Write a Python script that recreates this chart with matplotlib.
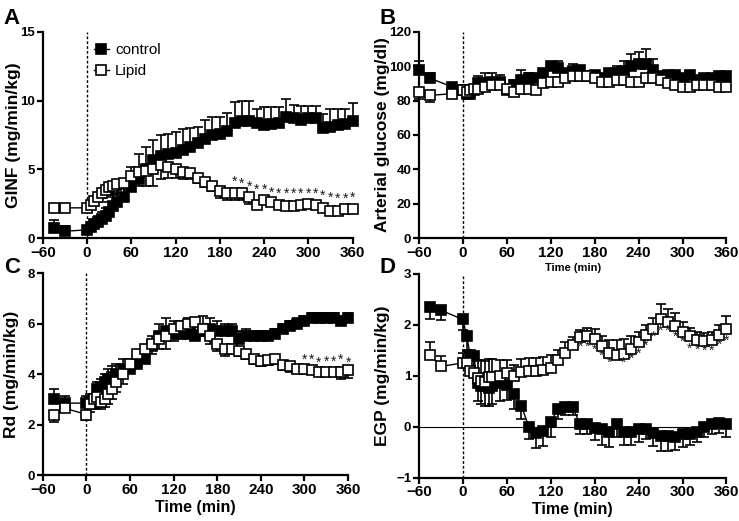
"""Four-panel clamp time course: GINF, arterial glucose, Rd and EGP."""

import matplotlib

matplotlib.use("Agg")
import matplotlib.pyplot as plt
import numpy as np

plt.rcParams["font.family"] = ["Liberation Sans", "DejaVu Sans"]
plt.rcParams["font.weight"] = "bold"

# time points (min)
t_main = [-45, -30, 0, 5, 10, 15, 20, 25, 30, 35, 40, 50, 60, 70, 80, 90, 100,
          110, 120, 130, 140, 150, 160, 170, 180, 190, 200, 210, 220, 230, 240,
          250, 260, 270, 280, 290, 300, 310, 320, 330, 340, 350, 360]
t_glu = [-60, -45, -15, 0, 5, 10, 15, 20, 30, 40, 50, 60, 70, 80, 90, 100, 110,
         120, 130, 140, 150, 160, 170, 180, 190, 200, 210, 220, 230, 240, 250,
         260, 270, 280, 290, 300, 310, 320, 330, 340, 350, 360]

# A: GINF
ginf_ctrl = [0.7, 0.5, 0.6, 0.8, 1.0, 1.2, 1.4, 1.6, 1.9, 2.3, 2.6, 3.0, 3.7, 4.3,
             5.0, 5.7, 6.0, 6.1, 6.2, 6.4, 6.6, 6.9, 7.2, 7.5, 7.6, 7.8, 8.4, 8.5,
             8.5, 8.4, 8.2, 8.3, 8.4, 8.8, 8.7, 8.6, 8.7, 8.7, 8.0, 8.1, 8.2, 8.3, 8.5]
ginf_ctrl_err = [0.6, 0.4, 0.3, 0.3, 0.3, 0.4, 0.5, 0.6, 0.7, 0.8, 0.9, 1.0, 1.5,
                 1.8, 1.6, 1.4, 1.5, 1.5, 1.5, 1.5, 1.4, 1.2, 1.4, 1.3, 1.2, 1.3,
                 1.5, 1.5, 1.5, 1.0, 1.3, 1.2, 1.1, 1.3, 1.0, 1.0, 0.9, 0.9, 1.0,
                 1.3, 1.2, 1.1, 1.3]
ginf_lip = [2.2, 2.2, 2.2, 2.4, 2.7, 3.0, 3.3, 3.5, 3.7, 3.8, 3.9, 4.0, 4.5, 4.8,
            4.9, 5.0, 5.3, 5.2, 5.0, 4.8, 4.7, 4.4, 4.1, 3.8, 3.4, 3.3, 3.3, 3.3,
            3.0, 2.4, 2.8, 2.6, 2.4, 2.3, 2.3, 2.4, 2.5, 2.4, 2.2, 2.0, 2.0, 2.1, 2.1]
ginf_lip_err = [0.2, 0.2, 0.2, 0.3, 0.3, 0.4, 0.4, 0.5, 0.5, 0.6, 0.6, 0.7, 0.8,
                1.0, 1.1, 1.2, 1.0, 0.8, 0.6, 0.5, 0.4, 0.4, 0.4, 0.4, 0.5, 0.5,
                0.5, 0.5, 0.5, 0.3, 0.3, 0.2, 0.2, 0.2, 0.2, 0.2, 0.2, 0.2, 0.2,
                0.3, 0.3, 0.2, 0.2]
ginf_star_t = [200, 210, 220, 230, 240, 250, 260, 270, 280, 290, 300, 310, 320,
               330, 340, 350, 360]
ginf_star_y = [4.1, 3.93, 3.74, 3.5, 3.5, 3.33, 3.2, 3.2, 3.25, 3.2, 3.2, 3.2,
               3.06, 2.94, 2.84, 2.84, 2.96]

# B: arterial glucose
glu_ctrl = [98, 93, 88, 86, 84, 84, 86, 90, 90, 91, 91, 86, 89, 92, 93, 93, 96,
            100, 99, 96, 97, 98, 94, 95, 93, 96, 96, 97, 100, 101, 101, 98, 94,
            95, 95, 93, 95, 92, 93, 93, 94, 94]
glu_ctrl_err = [5, 3, 2, 1, 1, 1, 2, 4, 6, 5, 4, 1, 3, 6, 3, 2, 2, 2, 4, 2, 4,
                2, 1, 1, 1, 2, 4, 6, 7, 7, 9, 6, 2, 2, 1, 1, 2, 1, 1, 1, 1, 1]
glu_lip = [85, 83, 84, 86, 85, 86, 87, 87, 88, 89, 89, 87, 85, 87, 87, 86, 90,
           91, 91, 93, 94, 94, 94, 93, 91, 91, 92, 92, 91, 91, 93, 93, 92, 90,
           89, 88, 88, 89, 89, 89, 88, 88]
glu_lip_err = [4, 4, 2, 2, 2, 2, 2, 2, 2, 2, 2, 2, 2, 2, 2, 2, 2, 2, 2, 1, 1, 1,
               1, 1, 1, 1, 1, 1, 1, 1, 1, 1, 1, 1, 1, 1, 1, 1, 1, 1, 1, 1]

# C: Rd
rd_ctrl = [3.0, 2.85, 2.85, 2.9, 2.8, 3.4, 3.5, 3.7, 3.8, 3.9, 4.0, 4.2, 4.2,
           4.4, 4.6, 5.1, 5.5, 5.7, 5.6, 5.6, 5.6, 5.5, 5.7, 5.8, 5.7, 5.7, 5.7,
           5.4, 5.5, 5.5, 5.5, 5.5, 5.6, 5.8, 5.9, 6.0, 6.1, 6.2, 6.2, 6.2, 6.2,
           6.1, 6.2]
rd_ctrl_err = [0.4, 0.3, 0.3, 0.3, 0.3, 0.3, 0.3, 0.3, 0.4, 0.4, 0.4, 0.4, 0.4,
               0.4, 0.4, 0.4, 0.5, 0.5, 0.5, 0.5, 0.6, 0.6, 0.6, 0.4, 0.4, 0.3,
               0.3, 0.3, 0.3, 0.2, 0.2, 0.2, 0.2, 0.2, 0.2, 0.2, 0.2, 0.2, 0.2,
               0.2, 0.2, 0.2, 0.2]
rd_lip = [2.4, 2.65, 2.4, 2.8, 3.0, 3.1, 2.9, 3.0, 3.2, 3.4, 3.7, 4.0, 4.4, 4.8,
          5.0, 5.2, 5.4, 5.5, 5.8, 5.9, 6.0, 6.05, 5.8, 5.5, 5.2, 5.0, 5.0, 4.9,
          4.8, 4.6, 4.5, 4.55, 4.6, 4.35, 4.3, 4.2, 4.2, 4.15, 4.1, 4.1, 4.1,
          4.1, 4.15]
rd_lip_err = [0.3, 0.15, 0.2, 0.3, 0.3, 0.3, 0.3, 0.3, 0.4, 0.4, 0.4, 0.4, 0.3,
              0.3, 0.3, 0.4, 0.4, 0.5, 0.5, 0.3, 0.3, 0.3, 0.3, 0.3, 0.3, 0.3,
              0.2, 0.2, 0.2, 0.2, 0.2, 0.2, 0.2, 0.2, 0.2, 0.1, 0.1, 0.1, 0.1,
              0.1, 0.1, 0.3, 0.3]
rd_star_t = [300, 310, 320, 330, 340, 350, 360]
rd_star_y = [4.55, 4.55, 4.43, 4.5, 4.5, 4.55, 4.45]

# D: EGP
egp_ctrl = [2.35, 2.28, 2.1, 1.78, 1.4, 1.38, 0.85, 0.8, 0.8, 0.75, 0.8, 0.85,
            0.82, 0.65, 0.4, 0.0, -0.12, -0.08, 0.1, 0.35, 0.38, 0.38, 0.05,
            0.05, -0.02, -0.05, -0.1, 0.05, -0.1, -0.1, -0.05, -0.05, -0.12,
            -0.18, -0.18, -0.2, -0.15, -0.15, -0.1, 0.0, 0.05, 0.08, 0.05]
egp_ctrl_err = [0.25, 0.2, 0.2, 0.3, 0.3, 0.3, 0.35, 0.35, 0.4, 0.35, 0.35,
                0.35, 0.3, 0.3, 0.25, 0.25, 0.3, 0.3, 0.3, 0.2, 0.15, 0.15, 0.2,
                0.2, 0.25, 0.3, 0.3, 0.25, 0.25, 0.25, 0.25, 0.2, 0.25, 0.3, 0.3,
                0.25, 0.25, 0.2, 0.2, 0.2, 0.2, 0.2, 0.25]
egp_lip = [1.4, 1.18, 1.25, 1.25, 1.1, 1.05, 0.95, 0.9, 0.88, 0.97, 0.97, 1.0,
           1.05, 1.0, 1.08, 1.1, 1.1, 1.12, 1.15, 1.3, 1.45, 1.6, 1.75, 1.78,
           1.72, 1.58, 1.45, 1.4, 1.42, 1.52, 1.65, 1.8, 1.92, 2.1, 2.05, 1.98,
           1.85, 1.78, 1.7, 1.68, 1.7, 1.8, 1.92]
egp_lip_err = [0.25, 0.2, 0.2, 0.25, 0.3, 0.3, 0.35, 0.4, 0.4, 0.35, 0.35, 0.3,
               0.25, 0.2, 0.25, 0.25, 0.25, 0.25, 0.25, 0.2, 0.2, 0.15, 0.15,
               0.15, 0.2, 0.2, 0.25, 0.3, 0.3, 0.25, 0.2, 0.2, 0.2, 0.3, 0.25,
               0.25, 0.2, 0.15, 0.15, 0.15, 0.15, 0.2, 0.25]
egp_star_t = [160, 170, 180, 190, 200, 220, 230, 240, 250, 260, 270, 280, 290,
              300, 310, 320, 330, 340, 350, 360]
egp_star_y = [1.56, 1.56, 1.51, 1.38, 1.25, 1.25, 1.34, 1.43, 1.59, 1.76, 1.87,
              1.87, 1.76, 1.67, 1.52, 1.50, 1.48, 1.48, 1.61, 1.69]

x_ticks = [-60, 0, 60, 120, 180, 240, 300, 360]


def _series(ax, t, y, err, filled, up, label):
    t = np.asarray(t, dtype=float)
    y = np.asarray(y, dtype=float)
    err = np.asarray(err, dtype=float)
    zeros = np.zeros_like(err)
    yerr = [zeros, err] if up else [err, zeros]
    eb = ax.errorbar(t, y, yerr=yerr, fmt="none", ecolor="black", elinewidth=1.2,
                     capsize=3.5, capthick=1.2, zorder=2)
    for art in eb.lines[1] + eb.lines[2]:
        art.set_clip_on(False)
    ax.plot(t, y, color="black", linewidth=1.0, marker="s", markersize=6.5,
            markerfacecolor="black" if filled else "white",
            markeredgecolor="black", markeredgewidth=1.2, zorder=3, label=label,
            clip_on=False)


def _stars(ax, t, y):
    for ti, yi in zip(t, y):
        ax.text(ti, yi, "*", ha="center", va="center", fontsize=10,
                fontweight="normal", color="#1a1a1a", zorder=4)


def _style(ax, ylim, yticks, ylabel, label_x, xlabel=None, xlabel_size=11):
    ax.set_xlim(-60, 360)
    ax.set_ylim(*ylim)
    ax.set_xticks(x_ticks)
    ax.set_yticks(yticks)
    ax.axvline(0, color="black", linestyle=(0, (2, 1.5)), linewidth=1.0, zorder=1)
    for side in ("top", "right"):
        ax.spines[side].set_visible(False)
    for side in ("left", "bottom"):
        ax.spines[side].set_linewidth(1.6)
    ax.tick_params(direction="out", width=1.6, length=4, pad=1.5)
    ax.tick_params(axis="x", labelsize=11)
    ax.tick_params(axis="y", labelsize=9.5)
    ax.set_ylabel(ylabel, fontsize=12.5, fontweight="bold")
    ax.yaxis.set_label_coords(label_x, 0.5)
    if xlabel:
        ax.set_xlabel(xlabel, fontsize=xlabel_size, fontweight="bold", labelpad=2)


fig = plt.figure(figsize=(7.39, 5.21), dpi=100)
axA = fig.add_axes([0.058, 0.543, 0.419, 0.396])
axB = fig.add_axes([0.567, 0.543, 0.416, 0.396])
axC = fig.add_axes([0.058, 0.088, 0.413, 0.388])
axD = fig.add_axes([0.567, 0.083, 0.416, 0.392])

# A
_series(axA, t_main, ginf_ctrl, ginf_ctrl_err, True, True, "control")
_series(axA, t_main, ginf_lip, ginf_lip_err, False, False, "Lipid")
_stars(axA, ginf_star_t, ginf_star_y)
_style(axA, (0, 15), [0, 5, 10, 15], "GINF (mg/min/kg)", -0.07)
axA.legend(loc="upper left", bbox_to_anchor=(0.12, 1.01), frameon=False,
           handlelength=1.0, handletextpad=0.4, labelspacing=0.45,
           prop={"size": 11, "weight": "normal"})

# B
_series(axB, t_glu, glu_ctrl, glu_ctrl_err, True, True, "control")
_series(axB, t_glu, glu_lip, glu_lip_err, False, False, "Lipid")
_style(axB, (0, 120), [0, 20, 40, 60, 80, 100, 120], "Arterial glucose (mg/dl)",
       -0.093, "Time (min)", 8)

# C
_series(axC, t_main, rd_ctrl, rd_ctrl_err, True, True, "control")
_series(axC, t_main, rd_lip, rd_lip_err, False, False, "Lipid")
_stars(axC, rd_star_t, rd_star_y)
_style(axC, (0, 8), [0, 2, 4, 6, 8], "Rd (mg/min/kg)", -0.079, "Time (min)", 11.5)

# D
axD.axhline(0, color="black", linewidth=0.8, zorder=1)
_series(axD, t_main, egp_ctrl, egp_ctrl_err, True, False, "control")
_series(axD, t_main, egp_lip, egp_lip_err, False, True, "Lipid")
_stars(axD, egp_star_t, egp_star_y)
_style(axD, (-1, 3), [-1, 0, 1, 2, 3], "EGP (mg/min/kg)", -0.093, "Time (min)", 11.5)

for x, y, letter in [(0.005, 0.965, "A"), (0.513, 0.965, "B"),
                     (0.005, 0.487, "C"), (0.513, 0.487, "D")]:
    fig.text(x, y, letter, fontsize=16, fontweight="bold", va="center", ha="left")

fig.savefig("out.png", dpi=100)
